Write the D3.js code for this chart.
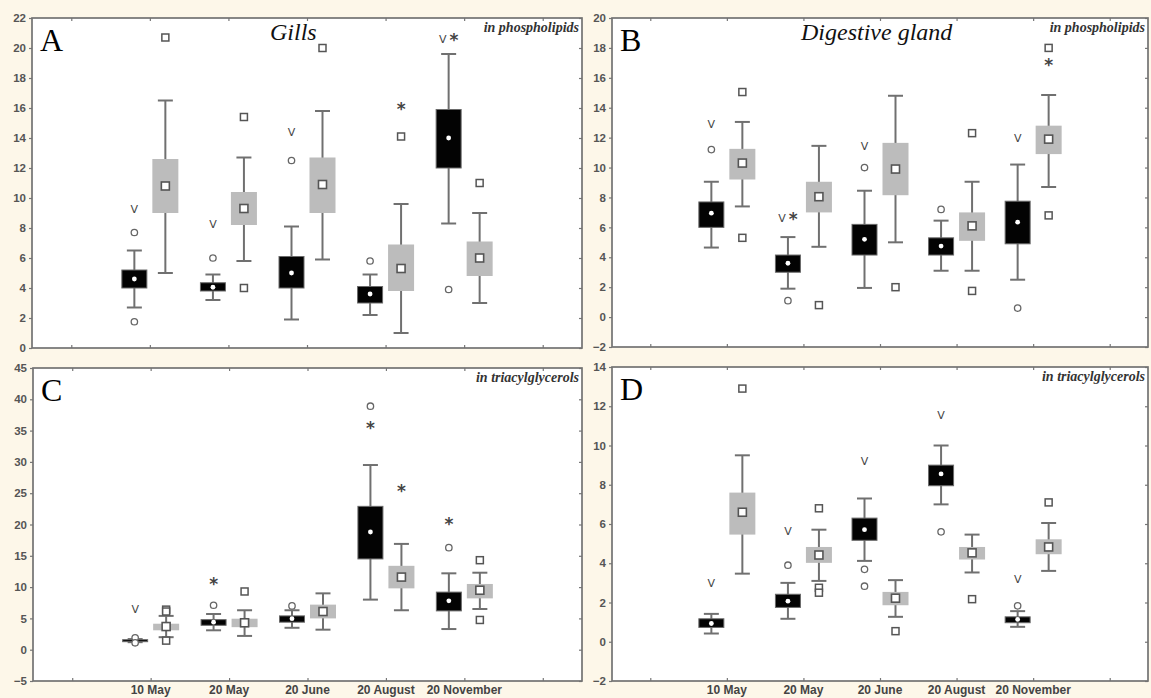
<!DOCTYPE html>
<html>
<head>
<meta charset="utf-8">
<script src="https://cdn.jsdelivr.net/npm/d3@7"></script>
<style>
  body { margin: 0; background: #fdf7e9; }
  svg { display: block; }
</style>
</head>
<body>
<div id="chart"></div>
<script>
// sampling dates (categories 2..6 on a 1..7 tick axis)
const dates = ["10 May", "20 May", "20 June", "20 August", "20 November"];

// box stats: [whisker low, box low, median, box high, whisker high]
const gillsPhosBlack = [[2.7, 4.0, 4.6, 5.2, 6.5], [3.2, 3.8, 4.05, 4.35, 4.9], [1.9, 4.0, 5.0, 6.1, 8.1], [2.2, 3.0, 3.6, 4.1, 4.9], [8.3, 12.0, 14.0, 15.9, 19.6]];
const gillsPhosGray = [[5.0, 9.0, 10.8, 12.6, 16.5], [5.8, 8.2, 9.3, 10.4, 12.7], [5.9, 9.0, 10.9, 12.7, 15.8], [1.0, 3.8, 5.3, 6.9, 9.6], [3.0, 4.8, 6.0, 7.1, 9.0]];
const gillsPhosBlackOut = [[7.7, 1.75], [6.0], [12.5], [5.8], [3.9]];
const gillsPhosGrayOut = [[20.7], [15.4, 4.0], [20.0], [14.1], [11.0]];
const gillsPhosBlackNote = [["V", 9.3], ["V", 8.3], ["V", 14.4], null, ["V *", 20.6]];
const gillsPhosGrayNote = [null, null, null, ["*", 16.0], null];

const digPhosBlack = [[4.65, 6.0, 6.95, 7.7, 9.05], [1.9, 3.0, 3.6, 4.15, 5.35], [1.95, 4.15, 5.2, 6.2, 8.45], [3.1, 4.15, 4.75, 5.3, 6.45], [2.5, 4.9, 6.35, 7.75, 10.2]];
const digPhosGray = [[7.4, 9.2, 10.3, 11.25, 13.05], [4.7, 7.0, 8.05, 9.05, 11.45], [5.0, 8.15, 9.9, 11.65, 14.8], [3.1, 5.1, 6.1, 7.0, 9.05], [8.7, 10.9, 11.9, 12.8, 14.85]];
const digPhosBlackOut = [[11.2], [1.1], [10.0], [7.2], [0.6]];
const digPhosGrayOut = [[15.05, 5.3], [0.8], [2.0], [12.3, 1.75], [18.0, 6.8]];
const digPhosBlackNote = [["V", 12.9], ["V *", 6.6], ["V", 11.45], null, ["V", 12.0]];
const digPhosGrayNote = [null, null, null, null, ["*", 16.9]];

const gillsTagBlack = [[1.2, 1.3, 1.45, 1.6, 1.7], [3.1, 3.9, 4.4, 4.8, 5.7], [3.5, 4.4, 4.95, 5.4, 6.3], [8.0, 14.5, 18.8, 22.9, 29.5], [3.3, 6.2, 7.8, 9.2, 12.2]];
const gillsTagGray = [[2.0, 3.1, 3.7, 4.15, 5.4], [2.2, 3.6, 4.3, 4.95, 6.3], [3.2, 5.0, 6.1, 7.2, 9.0], [6.3, 9.8, 11.6, 13.4, 16.9], [6.5, 8.2, 9.5, 10.5, 12.3]];
const gillsTagBlackOut = [[1.9, 1.1], [7.1], [7.0], [38.9], [16.3]];
const gillsTagGrayOut = [[6.4, 6.1, 1.45], [9.3], [], [], [14.3, 4.75]];
const gillsTagBlackNote = [["V", 6.5], ["*", 10.6], null, ["*", 35.6], ["*", 20.2]];
const gillsTagGrayNote = [null, null, null, ["*", 25.5], null];

const digTagBlack = [[0.42, 0.73, 0.93, 1.17, 1.42], [1.17, 1.75, 2.07, 2.42, 3.0], [4.12, 5.17, 5.71, 6.3, 7.3], [7.0, 7.95, 8.55, 9.0, 10.0], [0.76, 0.97, 1.14, 1.27, 1.56]];
const digTagGray = [[3.47, 5.46, 6.6, 7.6, 9.5], [3.1, 4.02, 4.42, 4.83, 5.71], [1.27, 1.86, 2.22, 2.54, 3.14], [3.53, 4.19, 4.53, 4.83, 5.46], [3.61, 4.46, 4.83, 5.22, 6.05]];
const digTagBlackOut = [[], [3.9], [3.69, 2.83], [5.6], [1.83]];
const digTagGrayOut = [[12.9], [6.8, 2.75, 2.5], [0.54], [2.17], [7.1]];
const digTagBlackNote = [["V", 2.97], ["V", 5.64], ["V", 9.2], ["V", 11.55], ["V", 3.22]];
const digTagGrayNote = [null, null, null, null, null];

const width = 1151, height = 698;
const svg = d3.select("#chart").append("svg")
  .attr("width", width)
  .attr("height", height);

svg.append("rect")
  .attr("width", width)
  .attr("height", height)
  .attr("fill", "#fdf7e9");

const panels = [
  { left: 32, right: 582, top: 18, bottom: 348, yDomain: [0, 22], step: 2, letter: "A", title: "Gills", titleX: 270, note: "in phospholipids",
    black: gillsPhosBlack, gray: gillsPhosGray, blackOut: gillsPhosBlackOut, grayOut: gillsPhosGrayOut, blackNote: gillsPhosBlackNote, grayNote: gillsPhosGrayNote, labels: false },
  { left: 612, right: 1148, top: 18, bottom: 347, yDomain: [-2, 20], step: 2, letter: "B", title: "Digestive gland", titleX: 801, note: "in phospholipids",
    black: digPhosBlack, gray: digPhosGray, blackOut: digPhosBlackOut, grayOut: digPhosGrayOut, blackNote: digPhosBlackNote, grayNote: digPhosGrayNote, labels: false },
  { left: 33, right: 582, top: 368, bottom: 681, yDomain: [-5, 45], step: 5, letter: "C", title: null, note: "in triacylglycerols",
    black: gillsTagBlack, gray: gillsTagGray, blackOut: gillsTagBlackOut, grayOut: gillsTagGrayOut, blackNote: gillsTagBlackNote, grayNote: gillsTagGrayNote, labels: true },
  { left: 612, right: 1148, top: 367, bottom: 681, yDomain: [-2, 14], step: 2, letter: "D", title: null, note: "in triacylglycerols",
    black: digTagBlack, gray: digTagGray, blackOut: digTagBlackOut, grayOut: digTagGrayOut, blackNote: digTagBlackNote, grayNote: digTagGrayNote, labels: true }
];

panels.forEach(drawPanel);

function drawPanel(p) {
  const x = d3.scaleLinear().domain([0.5, 7.5]).range([p.left, p.right]);
  const y = d3.scaleLinear().domain(p.yDomain).range([p.bottom, p.top]);
  const yTicks = d3.range(p.yDomain[0], p.yDomain[1] + 0.001, p.step);
  const xTicks = d3.range(1, 8);

  const g = svg.append("g");

  g.append("rect")
    .attr("x", p.left)
    .attr("y", p.top)
    .attr("width", p.right - p.left)
    .attr("height", p.bottom - p.top)
    .attr("fill", "#fff");

  // left axis with labels
  const left = g.append("g")
    .attr("transform", "translate(" + p.left + ",0)")
    .call(d3.axisLeft(y).tickValues(yTicks).tickSize(3).tickPadding(3));
  // inner ticks on the other three sides
  const right = g.append("g")
    .attr("transform", "translate(" + p.right + ",0)")
    .call(d3.axisLeft(y).tickValues(yTicks).tickSize(3).tickFormat(""));
  const top = g.append("g")
    .attr("transform", "translate(0," + p.top + ")")
    .call(d3.axisBottom(x).tickValues(xTicks).tickSize(3).tickFormat(""));
  const bottom = g.append("g")
    .attr("transform", "translate(0," + p.bottom + ")")
    .call(d3.axisTop(x).tickValues(xTicks).tickSize(3).tickFormat(""));

  [left, right, top, bottom].forEach(a => {
    a.select(".domain").remove();
    a.selectAll("line").attr("stroke", "#777").attr("stroke-width", 1.2);
  });
  left.selectAll("text")
    .attr("fill", "#555")
    .style("font", "bold 11.5px 'Liberation Sans', Arial, sans-serif");

  // frame
  g.append("rect")
    .attr("x", p.left)
    .attr("y", p.top)
    .attr("width", p.right - p.left)
    .attr("height", p.bottom - p.top)
    .attr("fill", "none")
    .attr("stroke", "#737373")
    .attr("stroke-width", 1.7);

  if (p.labels) {
    g.selectAll(".xlab")
      .data(dates)
      .enter().append("text")
      .attr("x", (d, i) => x(i + 2))
      .attr("y", p.bottom + 13)
      .attr("text-anchor", "middle")
      .attr("fill", "#444")
      .style("font", "bold 12px 'Liberation Sans', Arial, sans-serif")
      .text(d => d);
  }

  // letters and titles
  g.append("text")
    .attr("x", p.left + 8)
    .attr("y", p.top + 33)
    .attr("fill", "#000")
    .style("font", "32px 'Liberation Serif', 'Times New Roman', serif")
    .text(p.letter);

  if (p.title) {
    g.append("text")
      .attr("x", p.titleX)
      .attr("y", p.top + 22)
      .attr("fill", "#111")
      .style("font", "italic 24px 'Liberation Serif', 'Times New Roman', serif")
      .text(p.title);
  }

  g.append("text")
    .attr("x", p.right - 3)
    .attr("y", p.top + 14)
    .attr("text-anchor", "end")
    .attr("fill", "#333")
    .style("font", "italic bold 14px 'Liberation Serif', 'Times New Roman', serif")
    .text(p.note);

  drawSeries(g, x, y, p.black, p.blackOut, p.blackNote, -15.5, "black");
  drawSeries(g, x, y, p.gray, p.grayOut, p.grayNote, 15.5, "gray");
}

function drawSeries(g, x, y, stats, outs, notes, offset, kind) {
  const boxW = kind === "black" ? 25 : 26;
  const capW = 15;
  const cx = i => x(i + 2) + offset;
  const s = g.append("g");

  // whisker stem
  s.selectAll(".stem")
    .data(stats)
    .enter().append("line")
    .attr("x1", (d, i) => cx(i))
    .attr("x2", (d, i) => cx(i))
    .attr("y1", d => y(d[0]))
    .attr("y2", d => y(d[4]))
    .attr("stroke", "#707070")
    .attr("stroke-width", 2);

  // caps
  [0, 4].forEach(k => {
    s.selectAll(".cap" + k)
      .data(stats)
      .enter().append("line")
      .attr("x1", (d, i) => cx(i) - capW / 2)
      .attr("x2", (d, i) => cx(i) + capW / 2)
      .attr("y1", d => y(d[k]))
      .attr("y2", d => y(d[k]))
      .attr("stroke", "#707070")
      .attr("stroke-width", 2);
  });

  // box
  s.selectAll(".box")
    .data(stats)
    .enter().append("rect")
    .attr("x", (d, i) => cx(i) - boxW / 2)
    .attr("width", boxW)
    .attr("y", d => y(d[3]))
    .attr("height", d => Math.max(2, y(d[1]) - y(d[3])))
    .attr("fill", kind === "black" ? "#030303" : "#bcbcbc")
    .attr("stroke", kind === "black" ? "#6a6a6a" : "none")
    .attr("stroke-width", 1);

  // median marker
  if (kind === "black") {
    s.selectAll(".med")
      .data(stats)
      .enter().append("circle")
      .attr("cx", (d, i) => cx(i))
      .attr("cy", d => y(d[2]))
      .attr("r", 2.4)
      .attr("fill", "#fff");
  } else {
    s.selectAll(".med")
      .data(stats)
      .enter().append("rect")
      .attr("x", (d, i) => cx(i) - 4)
      .attr("y", d => y(d[2]) - 4)
      .attr("width", 8)
      .attr("height", 8)
      .attr("fill", "#fff")
      .attr("stroke", "#555")
      .attr("stroke-width", 1.6);
  }

  // outliers
  const pts = [];
  outs.forEach((arr, i) => arr.forEach(v => pts.push({ i: i, v: v })));
  if (kind === "black") {
    s.selectAll(".out")
      .data(pts)
      .enter().append("circle")
      .attr("cx", d => cx(d.i))
      .attr("cy", d => y(d.v))
      .attr("r", 3.2)
      .attr("fill", "#fff")
      .attr("stroke", "#666")
      .attr("stroke-width", 1.3);
  } else {
    s.selectAll(".out")
      .data(pts)
      .enter().append("rect")
      .attr("x", d => cx(d.i) - 3.5)
      .attr("y", d => y(d.v) - 3.5)
      .attr("width", 7)
      .attr("height", 7)
      .attr("fill", "#fff")
      .attr("stroke", "#555")
      .attr("stroke-width", 1.5);
  }

  // significance notes: "V" plain, "*" as a bold star
  const marks = notes.map((n, i) => n ? { i: i, t: n[0], v: n[1] } : null).filter(n => n);
  const txt = s.selectAll(".note")
    .data(marks)
    .enter().append("text")
    .attr("x", d => cx(d.i))
    .attr("y", d => y(d.v) + 4)
    .attr("text-anchor", "middle")
    .attr("fill", "#444")
    .style("font-family", "'DejaVu Sans', sans-serif");
  txt.each(function(d) {
    const t = d3.select(this);
    d.t.split(" ").forEach((part, k) => {
      t.append("tspan")
        .attr("dx", k > 0 ? 3 : 0)
        .attr("dy", part === "*" ? 3 : 0)
        .style("font-size", part === "*" ? "17px" : "11px")
        .style("font-weight", part === "*" ? "bold" : "normal")
        .text(part);
    });
  });
}
</script>
</body>
</html>
